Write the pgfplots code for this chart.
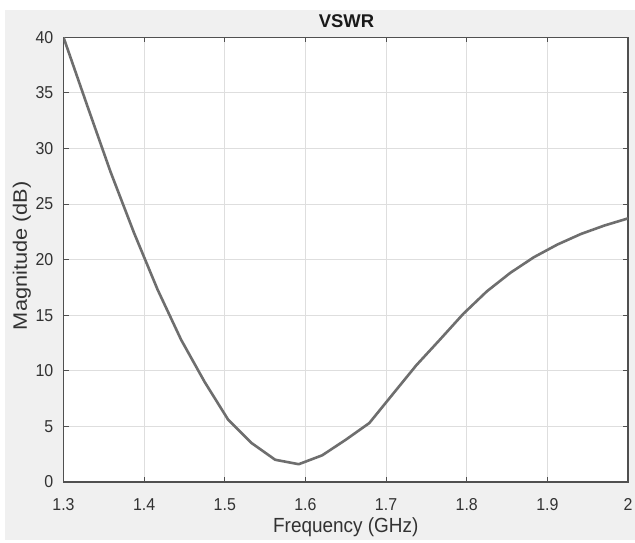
\documentclass[border=0pt]{standalone}
\usepackage{pgfplots}
\pgfplotsset{compat=1.18}
\usepackage{fontspec}
\setmainfont{Liberation Sans}
\definecolor{figbg}{RGB}{240,240,240}
\definecolor{linegray}{RGB}{110,110,110}
\definecolor{axisgray}{RGB}{80,80,80}
\definecolor{gridgray}{RGB}{222,222,222}
\definecolor{textgray}{RGB}{50,50,50}
\begin{document}
\begin{tikzpicture}[x=1bp,y=1bp]
\fill[white] (0,0) rectangle (635,543);
\fill[figbg] (5,3) rectangle (635,533);
\begin{axis}[
  at={(63.5bp,61bp)}, anchor=south west,
  scale only axis, width=564.5bp, height=444.7bp,
  xmin=1.3, xmax=2, ymin=0, ymax=40,
  xtick={1.3,1.4,1.5,1.6,1.7,1.8,1.9,2},
  ytick={0,5,10,15,20,25,30,35,40},
  xticklabels={1.3,1.4,1.5,1.6,1.7,1.8,1.9,2},
  axis background/.style={fill=white},
  grid=major,
  grid style={color=gridgray, line width=0.8bp},
  axis line style={color=axisgray, line width=1.3bp},
  tick align=inside,
  major tick length=5bp,
  tick style={color=axisgray, line width=0.9bp},
  /pgf/number format/assume math mode=true,
  ticklabel style={font=\fontsize{16}{18}\selectfont, text=textgray, inner sep=0pt, yscale=1.08},
  xticklabel style={anchor=base, yshift=-26bp},
  yticklabel style={anchor=east, xshift=-10bp},
  xlabel={Frequency (GHz)},
  xlabel style={font=\fontsize{19}{22}\selectfont, text=textgray, anchor=base, yscale=1.08, at={([yshift=-51bp]axis description cs:0.5,0)}},
  ylabel={Magnitude (dB)},
  ylabel style={font=\fontsize{19.5}{22}\selectfont, text=textgray, anchor=base, xscale=1.12, at={([xshift=-36.5bp,yshift=4bp]axis description cs:0,0.5)}},
]
\addplot[color=linegray, line width=2.6bp, line join=round] coordinates {
(1.3000,40.0)
(1.3292,33.9)
(1.3583,27.9)
(1.3875,22.4)
(1.4167,17.3)
(1.4458,12.8)
(1.4750,9.0)
(1.5042,5.6)
(1.5333,3.5)
(1.5625,2.0)
(1.5917,1.6)
(1.6208,2.4)
(1.6500,3.8)
(1.6792,5.3)
(1.7083,7.9)
(1.7375,10.5)
(1.7667,12.8)
(1.7958,15.13)
(1.8250,17.15)
(1.8542,18.82)
(1.8833,20.22)
(1.9125,21.36)
(1.9417,22.31)
(1.9708,23.07)
(2.0000,23.71)
};
\end{axis}
\node[anchor=base, inner sep=0pt, text=black!90, font=\fontsize{18.5}{22}\selectfont\bfseries] at (346.5,515) {VSWR};
\end{tikzpicture}
\end{document}
